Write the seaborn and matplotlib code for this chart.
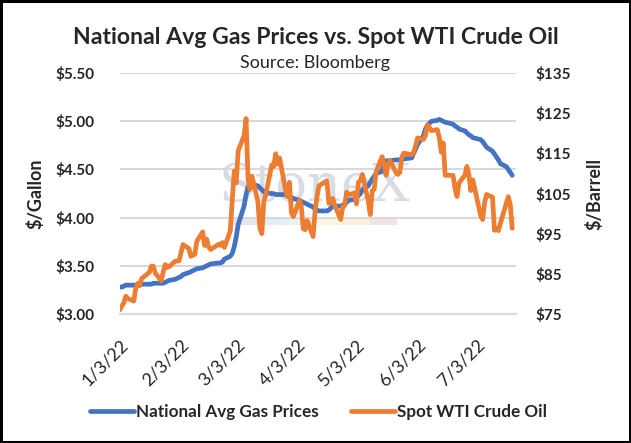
import pandas as pd
import matplotlib.pyplot as plt
import matplotlib.dates as mdates
from matplotlib.patches import Rectangle
from matplotlib.transforms import ScaledTranslation
import seaborn as sns

# trading days shown on the chart (Jan 3 - Jul 21, 2022, US market holidays removed)
holidays = ["2022-01-17", "2022-02-21", "2022-04-15", "2022-05-30", "2022-06-20", "2022-07-04"]
dates = pd.bdate_range("2022-01-03", "2022-07-21", freq="C", holidays=holidays)

# national average gas price, $/gallon
gas_prices = [
    3.28, 3.28, 3.29, 3.30, 3.30, 3.30, 3.30, 3.30, 3.30, 3.31, 3.31, 3.31, 3.32, 3.32, 3.32, 3.32, 3.33, 3.34, 3.35, 3.36,
    3.37, 3.38, 3.39, 3.41, 3.43, 3.44, 3.45, 3.46, 3.47, 3.48, 3.49, 3.50, 3.51, 3.52, 3.53, 3.53, 3.54, 3.57, 3.60,
    3.63, 3.70, 3.80, 3.93, 4.12, 4.24, 4.32, 4.35, 4.35, 4.33, 4.31, 4.29, 4.27, 4.26, 4.25, 4.25, 4.24, 4.24, 4.24, 4.24, 4.23, 4.22, 4.21,
    4.20, 4.18, 4.17, 4.16, 4.15, 4.14, 4.11, 4.09, 4.08, 4.07, 4.07, 4.08, 4.10, 4.12, 4.12, 4.12, 4.13, 4.14, 4.16, 4.18,
    4.19, 4.21, 4.23, 4.25, 4.29, 4.33, 4.37, 4.40, 4.43, 4.46, 4.48, 4.55, 4.59, 4.59, 4.59, 4.60, 4.60, 4.60, 4.60, 4.61, 4.62,
    4.67, 4.71, 4.76, 4.85, 4.92, 4.96, 4.98, 5.00, 5.01, 5.02, 5.01, 5.00, 4.99, 4.97, 4.95, 4.94, 4.92, 4.90, 4.88, 4.86, 4.85,
    4.83, 4.81, 4.79, 4.76, 4.73, 4.69, 4.66, 4.63, 4.60, 4.56, 4.53, 4.50, 4.47, 4.44,
]

# spot WTI crude, $/barrel
wti_prices = [
    76.08, 76.99, 77.85, 79.46, 78.90, 78.23, 81.22, 82.64, 82.12, 83.82, 85.43, 86.96, 86.90, 85.14, 83.31, 85.60, 87.35, 86.61, 86.82, 88.15,
    88.20, 88.26, 90.27, 92.31, 91.32, 89.36, 89.66, 89.88, 93.10, 95.46, 92.07, 93.66, 91.76, 91.07, 92.35, 92.10, 92.81, 91.59, 95.72,
    103.41, 110.60, 107.67, 115.68, 119.40, 123.70, 108.70, 106.02, 109.33, 103.01, 96.44, 95.04, 102.98, 104.70, 112.12, 111.76, 114.93, 112.34, 113.90, 105.96, 104.24, 107.82, 100.28,
    99.27, 103.28, 101.96, 96.23, 96.03, 98.26, 94.29, 100.60, 104.25, 106.95, 108.21, 102.56, 102.75, 103.79, 102.07, 98.54, 101.70, 102.02, 105.36, 104.69,
    105.17, 102.41, 107.81, 108.26, 109.77, 103.09, 99.76, 105.71, 106.13, 110.49, 114.20, 112.40, 109.59, 112.21, 113.23, 110.29, 109.77, 110.33, 114.09, 115.07, 114.67,
    115.26, 116.87, 118.87, 118.50, 119.41, 122.11, 121.51, 120.67, 120.93, 118.93, 115.31, 117.59, 109.56, 109.52, 106.19, 104.27, 107.62, 109.57, 111.76, 109.78, 105.76,
    108.43, 99.50, 98.53, 102.73, 104.79, 104.09, 95.84, 96.30, 95.78, 97.59, 102.60, 104.22, 102.26, 96.35,
]

gas_ticks = [3.0, 3.5, 4.0, 4.5, 5.0, 5.5]
wti_ticks = [75, 85, 95, 105, 115, 125, 135]
month_ticks = pd.to_datetime(["2022-01-03", "2022-02-03", "2022-03-03", "2022-04-03",
                              "2022-05-03", "2022-06-03", "2022-07-03"])

df = pd.DataFrame({"date": dates, "gas": gas_prices, "wti": wti_prices})

BLUE = "#4472C4"
ORANGE = "#ED7D31"
GRID = "#D9D9D9"

sns.set_style("white")
plt.rcParams["font.family"] = ["Lato", "DejaVu Sans"]

fig = plt.figure(figsize=(6.31, 4.43), dpi=100)
ax = fig.add_axes([0.190, 0.291, 0.628, 0.544])
ax2 = ax.twinx()

# faint logo watermark behind the lines
ax.text(0.49, 0.53, "StoneX", transform=ax.transAxes, ha="center", va="center",
        fontsize=38, family="DejaVu Serif", color="#CBD2DB", alpha=0.75, zorder=0)
strip = ["#DCE2E9", "#E0EAF3", "#E3EEE6", "#F7F3DA", "#FAEAD6", "#F2DCDC"]
for i, c in enumerate(strip):
    ax.add_patch(Rectangle((0.28 + i * 0.07, 0.37), 0.07, 0.028, transform=ax.transAxes,
                           color=c, alpha=0.8, lw=0, zorder=0))

sns.lineplot(data=df, x="date", y="gas", ax=ax, color=BLUE, linewidth=3.4, zorder=3,
             label="National Avg Gas Prices", legend=False)
sns.lineplot(data=df, x="date", y="wti", ax=ax2, color=ORANGE, linewidth=3.4, zorder=4,
             label="Spot WTI Crude Oil", legend=False)

ax.set_ylim(3.0, 5.5)
ax.set_yticks(gas_ticks)
ax.set_yticklabels([f"${v:.2f}" for v in gas_ticks], fontsize=11, fontweight="bold")
ax2.set_ylim(75, 135)
ax2.set_yticks(wti_ticks)
ax2.set_yticklabels([f"${v}" for v in wti_ticks], fontsize=11, fontweight="bold")

ax.set_xlim(pd.Timestamp("2022-01-03"), pd.Timestamp("2022-07-23"))
ax.set_xticks(month_ticks)
ax.xaxis.set_major_formatter(mdates.DateFormatter("%-m/%-d/%y"))
shift = ScaledTranslation(1 / 100, 0, fig.dpi_scale_trans)
for lab in ax.get_xticklabels():
    lab.set_rotation(45)
    lab.set_ha("right")
    lab.set_rotation_mode("anchor")
    lab.set_fontsize(13)
    lab.set_color("#262626")
    lab.set_transform(lab.get_transform() + shift)

ax.grid(axis="y", color=GRID, linewidth=1.5)
ax.set_axisbelow(True)
for a in (ax, ax2):
    for s in ("top", "left", "right"):
        a.spines[s].set_visible(False)
    a.spines["bottom"].set_color(GRID)
    a.spines["bottom"].set_linewidth(1.5)
ax.tick_params(axis="x", length=5, width=1.2, color=GRID, pad=11)
ax.tick_params(axis="y", length=0, pad=18)
ax2.tick_params(axis="y", length=0, pad=14)

ax.set_xlabel("")
ax.set_ylabel("$/Gallon", fontsize=13, fontweight="bold", labelpad=8)
ax2.set_ylabel("$/Barrell", fontsize=13, fontweight="bold", labelpad=10)

fig.text(0.5, 0.915, "National Avg Gas Prices vs. Spot WTI Crude Oil",
         ha="center", va="center", fontsize=16.6, fontweight="bold")
fig.text(0.5, 0.858, "Source: Bloomberg", ha="center", va="center", fontsize=13)

h1, l1 = ax.get_legend_handles_labels()
h2, l2 = ax2.get_legend_handles_labels()
fig.legend(h1 + h2, l1 + l2, loc="center", bbox_to_anchor=(0.505, 0.071), ncol=2,
           frameon=False, prop={"weight": "bold", "size": 12.3}, handlelength=2.6,
           columnspacing=1.85, handletextpad=0.12)

fig.patches.append(Rectangle((0.002, 0.003), 0.996, 0.994, transform=fig.transFigure,
                             fill=False, edgecolor="black", linewidth=2.2))

fig.savefig("out.png", dpi=100)
